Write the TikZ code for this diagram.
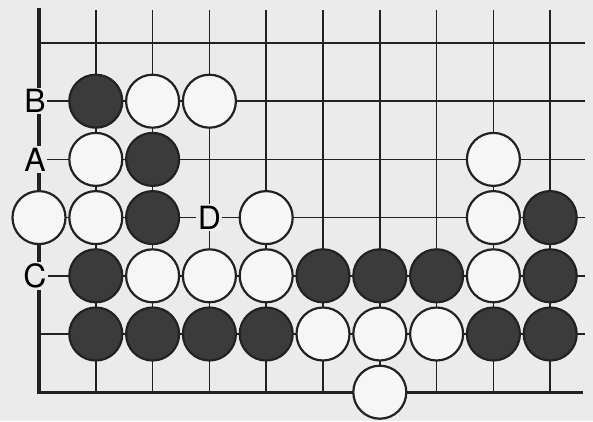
\documentclass[tikz,border=0pt]{standalone}
\usepackage{fontspec}
\setmainfont{TeX Gyre Heros}
\usetikzlibrary{positioning}
\definecolor{paper}{HTML}{EBEBEB}
\definecolor{ink}{HTML}{222222}
\definecolor{blackc}{HTML}{3B3B3B}
\definecolor{whitec}{HTML}{F6F6F6}
\newcommand{\lb}{\fontsize{32}{32}\selectfont}

\begin{document}
\begin{tikzpicture}[x=56.8pt, y=58.2pt,
  gridl/.style={draw=ink, line width=1.5pt},
  edgel/.style={draw=ink, line width=3.4pt, line join=miter},
  bs/.style={circle, draw=ink, line width=2.2pt, fill=#1, minimum size=53pt, inner sep=0pt},
  bs/.default=blackc,
  ws/.style={bs=whitec},
  lbl/.style={fill=paper, inner sep=1.5pt, font=\lb}]
% -- paper
\fill[paper] (-39pt,43pt) rectangle (554pt,-378pt);
\useasboundingbox (-39pt,43pt) rectangle (554pt,-378pt);
% -- grid
\foreach \c in {1,...,9} \draw[gridl] (\c,0.57) -- (\c,-6);
\foreach \r in {0,...,5} \draw[gridl] (0,-\r) -- (9.61,-\r);
\coordinate (top) at (0,0.6);
\coordinate (corner) at (0,-6);
\coordinate (right) at (9.58,-6);
\draw[edgel] (top) -- (corner) -- (right);
% -- labels on the edge
\node[lbl] (lB) at (-0.07,-1) {B};
\node[lbl] (lA) at (-0.07,-2) {A};
\node[lbl] (lC) at (-0.07,-4) {C};
\node[lbl] (lD) at (3,-3) {D};
% -- black stones
\foreach \c/\r in {1/1,2/2,2/3,9/3,1/4,5/4,6/4,7/4,9/4,1/5,2/5,3/5,4/5,8/5,9/5}
  \node[bs] (b\c-\r) at (\c,-\r) {};
% -- white stones
\foreach \c/\r in {2/1,3/1,1/2,8/2,0/3,1/3,4/3,8/3,2/4,3/4,4/4,8/4,5/5,6/5,7/5,6/6}
  \node[ws] (w\c-\r) at (\c,-\r) {};
\end{tikzpicture}
\end{document}
